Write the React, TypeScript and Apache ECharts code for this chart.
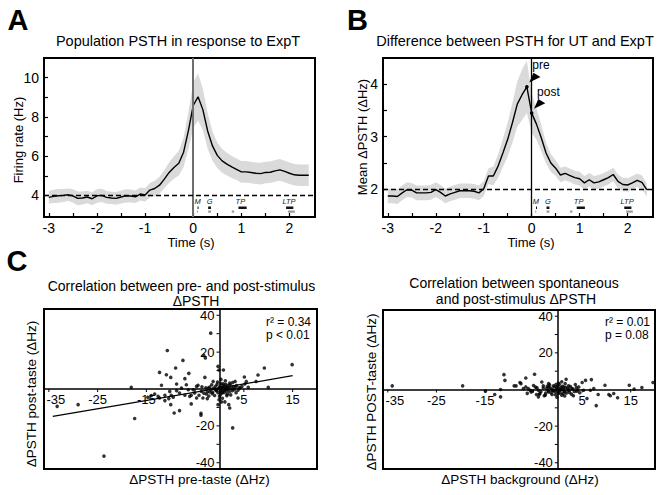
import React, { useEffect, useRef } from 'react';
import * as echarts from 'echarts';

// ---------- Panel A / B : time course ----------
const timeS = [-3.0,-2.9,-2.8,-2.7,-2.6,-2.5,-2.4,-2.3,-2.2,-2.1,-2.0,-1.9,-1.8,-1.7,-1.6,-1.5,-1.4,-1.3,-1.2,-1.1,-1.0,-0.9,-0.8,-0.7,-0.6,-0.5,-0.4,-0.3,-0.2,-0.1,0.0,0.1,0.2,0.3,0.4,0.5,0.6,0.7,0.8,0.9,1.0,1.1,1.2,1.3,1.4,1.5,1.6,1.7,1.8,1.9,2.0,2.1,2.2,2.3,2.4];

const rateA = [3.9,3.95,3.98,4.0,4.03,3.98,3.85,3.87,3.92,3.83,3.98,4.0,3.9,3.87,3.85,3.92,3.98,3.97,3.93,4.07,4.02,
  4.27,4.35,4.52,4.83,5.17,5.42,5.64,6.2,7.3,
  8.58,9.02,8.37,7.28,6.52,6.04,5.76,5.59,5.45,5.33,5.2,5.2,5.17,5.13,5.11,5.17,5.18,5.25,5.3,5.22,5.13,5.05,5.03,5.03,5.03];
const semA = [0.32,0.34,0.35,0.33,0.32,0.34,0.35,0.33,0.32,0.33,0.35,0.34,0.32,0.31,0.32,0.33,0.34,0.33,0.32,0.33,0.34,
  0.36,0.4,0.43,0.47,0.52,0.57,0.62,0.75,0.95,
  1.15,1.2,1.05,0.9,0.75,0.65,0.6,0.58,0.56,0.55,0.55,0.55,0.55,0.55,0.55,0.55,0.55,0.55,0.55,0.55,0.55,0.55,0.55,0.55,0.55];

const diffB = [1.87,1.87,1.86,1.93,1.99,1.98,1.93,1.93,1.93,1.94,1.99,1.94,1.87,1.91,1.94,1.97,1.97,1.97,1.96,1.93,2.01,
  2.25,2.25,2.44,2.69,2.95,3.27,3.62,3.8,3.95,
  3.45,3.24,2.98,2.69,2.5,2.4,2.27,2.3,2.26,2.22,2.2,2.12,2.18,2.12,2.14,2.18,2.22,2.28,2.15,2.09,2.08,2.12,2.17,2.13,1.99];
const semB = [0.14,0.14,0.14,0.14,0.14,0.14,0.14,0.14,0.14,0.14,0.14,0.14,0.14,0.14,0.14,0.14,0.14,0.14,0.14,0.14,0.14,
  0.15,0.18,0.22,0.27,0.32,0.38,0.43,0.48,0.5,
  0.38,0.3,0.25,0.2,0.17,0.15,0.14,0.13,0.13,0.13,0.13,0.13,0.13,0.13,0.13,0.13,0.13,0.13,0.13,0.13,0.13,0.13,0.13,0.13,0.13];

const timeTicks = [-3,-2.5,-2,-1.5,-1,-0.5,0,0.5,1,1.5,2];
const timeLabels = [-3,-2,-1,0,1,2];
const rateTicks = [4,5,6,7,8,9,10];
const rateLabels = [4,6,8,10];
const diffTicks = [2,2.5,3,3.5,4];
const diffLabels = [2,3,4];

// epoch markers (seconds)
const epochNames = ['M','G','TP','LTP'];
const epochLabelT = [0.09,0.34,0.98,1.99];
const epochBarStart = [0.09,0.31,0.94,1.93];
const epochBarEnd = [0.1,0.37,1.11,2.08];
const epochLowStart = [0.075,0.31,0.8,1.97];
const epochLowEnd = [0.085,0.37,0.85,2.11];

// pre / post arrows in B
const arrowNames = ['pre','post'];
const arrowT = [-0.1,0.0];
const arrowV = [3.95,3.45];

// ---------- Panel C : scatter ----------
const prePost: number[][] = [
  [-33.3,-9.4],[-29.0,-8.5],[-23.7,-36.4],[-18.1,0.9],[-17.4,-16.0],[-12.3,9.0],[-11.9,2.0],[-12.3,-4.9],[-10.7,20.9],[-10.9,7.7],
  [-10.0,6.3],[-9.9,-3.4],[-10.0,-8.5],[-9.3,-13.0],[-9.0,11.4],[-8.2,-11.7],[-7.5,15.5],[-7.1,5.6],[-6.3,8.5],[-6.8,2.3],
  [-6.1,-4.0],[-5.8,-8.1],[-3.8,-13.2],[-3.8,-14.2],[-3.2,18.2],[-2.9,16.8],[-1.8,30.3],[-3.0,6.3],[-4.4,2.0],[-3.7,-1.3],
  [-5.4,-0.4],[-4.7,-4.9],[-2.5,-5.2],[-1.6,2.3],[-1.3,4.1],[-0.3,12.3],[-0.1,10.3],[0.8,10.3],[-0.3,-8.5],[0.4,-7.0],
  [1.1,-7.0],[1.9,-8.5],[2.7,-21.1],[2.1,-10.3],[3.8,-4.9],[4.0,0.5],[5.1,6.5],[5.2,2.7],[5.5,4.1],[5.9,0.9],
  [7.5,4.1],[7.9,7.6],[9.2,11.4],[10.0,0.9],[14.9,13.2],[3.2,4.1],[2.1,3.2],[-14.7,-4.5],[-14.0,-3.6],[-13.3,-2.7],
  [-12.6,-4.0],[-11.2,-3.4],[-10.2,-1.3],[-9.5,-4.5],[-8.8,-0.9],[-8.2,-2.2],[-7.8,0.5],[-7.1,-3.4],[-6.4,-0.4],[-5.8,-3.4],
  [-5.1,-2.2],[-4.2,-3.4],[-3.4,-4.9],[-2.3,0.5],[-2.7,-2.7],[-2.0,-1.6],[-10.4,-5.2],[-11.2,-6.3],[-8.8,2.7],[-4.7,1.4],
  [-2.5,-1.5],[-2,1],[-1.5,-2.5],[-1.2,0.5],[-1,-3.5],[-0.8,1.5],[-0.6,-1],[-0.5,2.5],[-0.3,-2],[-0.2,0.3],
  [0,-4],[0.1,1.2],[0.2,-1.3],[0.3,3],[0.4,-0.5],[0.5,0.8],[0.6,-2.2],[0.7,2],[0.8,-0.8],[0.9,0.4],
  [1,-1.8],[1.1,1.5],[1.2,-0.3],[1.3,2.6],[1.4,-1],[1.5,0.7],[1.6,-2.8],[1.7,1.9],[1.8,-0.2],[1.9,0.9],
  [2,-1.5],[2.2,2.3],[2.4,0.2],[2.6,-0.9],[2.8,1.3],[3,-0.4],[3.2,0.9],[3.5,1.8],[3.8,-0.7],[4.2,0.6],
  [4.6,1.4],[-1.8,-0.5],[-1.4,-1.8],[-0.9,-0.2],[0,0.6],[0.2,-3],[0.5,-1.7],[0.8,2.8],[1.2,4.5],[0.3,5.2],
  [-0.4,3.8],[-0.1,-5.8],[0.6,-5],[1.5,-3.6],[2.3,-3.2],[-2.8,0.7],[-3.2,-2.3],[-3.6,1.2],[-2.2,-3.8],[1,0],
  [0.4,0.2],[-0.7,-0.6],[2.7,3.5],[3.4,-2],[0.1,-0.2]
];
const fitX = [-34.2,15.0];
const fitY = [-14.9,7.2];

const bgPost: number[][] = [
  [-34.1,2.0],[-19.6,2.0],[-14.9,-0.9],[-13.0,-2.7],[-11.8,-4.0],[-11.8,0],[-11.1,8.1],[-10.9,5.0],[-9.0,2.0],[-8.6,2.0],
  [-7.8,3.8],[-7.6,3.2],[-6.6,6.3],[-7.1,0.5],[-6.6,1.4],[-6.1,0.5],[-4.8,8.3],[-5.7,-0.4],[-5.3,-0.9],[-4.6,1.3],
  [-4.0,-4.0],[-3.7,-2.2],[-3.3,4.1],[-3.0,2.0],[-2.6,-3.1],[-2.3,0.5],[-1.9,-1.3],[-1.6,0.9],[-1.2,-2.7],[-0.9,2.0],
  [-0.6,-0.9],[-0.2,0.9],[0.1,-2.2],[0.5,0.2],[0.8,-3.1],[1.2,1.4],[1.5,3.2],[1.7,5.6],[2.1,-0.4],[2.4,-1.6],
  [2.9,0.5],[3.2,-3.4],[3.6,2.7],[3.9,-0.9],[4.3,1.4],[5.0,3.8],[5.3,-0.4],[5.7,5.0],[6.0,-4.9],[6.7,-0.4],
  [6.9,5.4],[7.4,0.5],[7.9,-8.8],[8.3,-2.7],[9.7,2.3],[10.5,-2.7],[10.8,-3.4],[11.5,-2.2],[12.3,-4.5],[14.7,2.3],
  [15.7,0.2],[17.3,1.1],[19.6,3.8],[2.2,2.0],[1.4,-1.3],[-0.4,2.7],[-1.1,-0.5],[-1.9,1.4],[-4.0,-0.4],[-4.4,-2.7],
  [-3.5,-1.2],[-3,0.8],[-2.5,-2],[-2.2,1.8],[-2,-0.6],[-1.7,2.5],[-1.4,-1.8],[-1.2,0.3],[-0.9,-0.8],[-0.7,1.5],
  [-0.5,-2.8],[-0.3,0.4],[-0.1,-1.2],[0,1.9],[0.2,-0.5],[0.3,2.8],[0.4,-1.7],[0.6,0.9],[0.7,-0.3],[0.9,1.8],
  [1,-2.2],[1.1,0.2],[1.3,-0.9],[1.6,1.1],[1.8,-1.9],[2,0.7],[2.3,-0.2],[2.6,1.6],[2.8,-2.5],[3.1,0.3],
  [3.4,-1.1],[3.8,1],[4.1,-0.3],[4.5,-1.8],[-4.3,0.9],[-3.8,-2.6],[-2.8,-3.4],[-1.9,3.2],[0.1,3.5],[1.4,-3.5],
  [-0.2,-4.2],[0.8,4.2],[-5.5,-1.4],[-6.3,-2.1],[-5,2.2]
];

const corrXTicks = [-35,-25,-15,-5,5,15];
const corrXLabels = [-35,-25,-15,5,15];
const corrYTicks = [-40,-30,-20,-10,10,20,30,40];
const corrYLabels = [-40,-20,20,40];

const FONT = '"Liberation Sans", Arial, Helvetica, sans-serif';

function bandSeries(idx: number, t: number[], v: number[], e: number[]) {
  return {
    type: 'custom', xAxisIndex: idx, yAxisIndex: idx, z: 1, silent: true,
    data: [[t[0], v[0]]],
    renderItem: (params: any, api: any) => {
      const pts: number[][] = [];
      for (let i = 0; i < t.length; i++) pts.push(api.coord([t[i], v[i] + e[i]]));
      for (let i = t.length - 1; i >= 0; i--) pts.push(api.coord([t[i], v[i] - e[i]]));
      return { type: 'polygon', shape: { points: pts }, style: { fill: '#dadada' } };
    },
  };
}

function epochSeries(idx: number, yRef: number) {
  return {
    type: 'custom', xAxisIndex: idx, yAxisIndex: idx, z: 5, silent: true,
    data: epochLabelT.map((t) => [t, yRef]),
    renderItem: (params: any, api: any) => {
      const i = params.dataIndex;
      const cs = params.coordSys;
      const bottom = cs.y + cs.height;
      const yv = api.value(1);
      const xl = api.coord([epochLabelT[i], yv])[0];
      const xs = api.coord([epochBarStart[i], yv])[0];
      const xe = api.coord([epochBarEnd[i], yv])[0];
      const ls = api.coord([epochLowStart[i], yv])[0];
      const le = api.coord([epochLowEnd[i], yv])[0];
      return {
        type: 'group',
        children: [
          { type: 'text', style: { text: epochNames[i], x: xl, y: bottom - 15.5, align: 'center', verticalAlign: 'middle', font: `italic 7.5px ${FONT}`, fill: '#222' } },
          { type: 'rect', shape: { x: xs, y: bottom - 10.5, width: Math.max(xe - xs, 1), height: 2.5 }, style: { fill: '#111' } },
          { type: 'rect', shape: { x: ls, y: bottom - 6.5, width: Math.max(le - ls, 1), height: 2.2 }, style: { fill: '#9a9a9a' } },
        ],
      };
    },
  };
}

// tick marks and labels of the zero-crossing axes in C, placed through the axis scales
function corrAxisMarks(idx: number) {
  return {
    type: 'custom', xAxisIndex: idx, yAxisIndex: idx, z: 6, silent: true,
    data: [[0, 0]],
    renderItem: (params: any, api: any) => {
      const children: any[] = [];
      const font = `13px ${FONT}`;
      corrXTicks.forEach((v) => {
        const p = api.coord([v, 0]);
        children.push({ type: 'line', shape: { x1: p[0], y1: p[1], x2: p[0], y2: p[1] + 3 }, style: { stroke: '#000', lineWidth: 1 } });
      });
      corrXLabels.forEach((v) => {
        const p = api.coord([v, 0]);
        children.push({ type: 'text', style: { text: String(v), x: p[0] + (v === -35 ? 7 : 0), y: p[1] + 4, align: 'center', verticalAlign: 'top', font, fill: '#000' } });
      });
      corrYTicks.forEach((v) => {
        const p = api.coord([0, v]);
        children.push({ type: 'line', shape: { x1: p[0] - 3, y1: p[1], x2: p[0], y2: p[1] }, style: { stroke: '#000', lineWidth: 1 } });
      });
      corrYLabels.forEach((v) => {
        const p = api.coord([0, v]);
        children.push({ type: 'text', style: { text: String(v), x: p[0] - 5, y: p[1], align: 'right', verticalAlign: 'middle', font, fill: '#000' } });
      });
      return { type: 'group', children };
    },
  };
}

function timeAxes(idx: number, min: number, max: number, yTicks: number[], yLabels: number[]) {
  const x = {
    type: 'value', gridIndex: idx, min: -3.1, max: 2.53,
    axisLine: { show: false, onZero: false },
    axisTick: { show: true, inside: true, length: 4, customValues: timeTicks, lineStyle: { color: '#000', width: 1.2 } },
    axisLabel: { customValues: timeLabels, fontSize: 14, color: '#000', margin: 4, fontFamily: FONT },
    splitLine: { show: false },
  };
  const y = {
    type: 'value', gridIndex: idx, min, max,
    axisLine: { show: false, onZero: false },
    axisTick: { show: true, inside: true, length: 4, customValues: yTicks, lineStyle: { color: '#000', width: 1.2 } },
    axisLabel: { customValues: yLabels, fontSize: 14, color: '#000', margin: 5, fontFamily: FONT },
    splitLine: { show: false },
  };
  return { x, y };
}

function corrAxes(idx: number) {
  const x = {
    type: 'value', gridIndex: idx, min: -36, max: 20,
    axisLine: { show: true, onZero: true, lineStyle: { color: '#000', width: 1.5 } },
    axisTick: { show: false },
    axisLabel: { show: false },
    splitLine: { show: false },
  };
  const y = {
    type: 'value', gridIndex: idx, min: -43.4, max: 43.4,
    axisLine: { show: true, onZero: true, lineStyle: { color: '#000', width: 1.5 } },
    axisTick: { show: false },
    axisLabel: { show: false },
    splitLine: { show: false },
  };
  return { x, y };
}

function txt(text: string, x: number, y: number, size: number, opts: any = {}) {
  return {
    type: 'text', x, y, rotation: opts.rotation || 0, silent: true,
    style: {
      text, font: `${opts.bold ? 'bold ' : ''}${size}px ${FONT}`, fill: '#000',
      align: opts.align || 'center', verticalAlign: 'middle',
    },
  };
}

export default function App() {
  const ref = useRef<HTMLDivElement>(null);
  useEffect(() => {
    if (!ref.current) return;
    const chart = echarts.init(ref.current, undefined, { renderer: 'svg' });
    const aAx = timeAxes(0, 2.9, 11, rateTicks, rateLabels);
    const bAx = timeAxes(1, 1.47, 4.5, diffTicks, diffLabels);
    const cAx = corrAxes(2);
    const dAx = corrAxes(3);
    const gridStyle = { show: true, borderColor: '#000', borderWidth: 2, backgroundColor: 'transparent' };

    const option: any = {
      animation: false,
      backgroundColor: '#fff',
      grid: [
        { ...gridStyle, left: 44, top: 58, width: 271, height: 159 },
        { ...gridStyle, left: 383, top: 58, width: 270, height: 159 },
        { ...gridStyle, left: 44, top: 309, width: 273, height: 160 },
        { ...gridStyle, left: 383, top: 310, width: 272, height: 159 },
      ],
      xAxis: [aAx.x, bAx.x, cAx.x, dAx.x],
      yAxis: [aAx.y, bAx.y, cAx.y, dAx.y],
      series: [
        bandSeries(0, timeS, rateA, semA),
        {
          type: 'line', xAxisIndex: 0, yAxisIndex: 0, z: 3, symbol: 'none', silent: true,
          data: timeS.map((t, i) => [t, rateA[i]]),
          lineStyle: { color: '#000', width: 1.4 },
          markLine: {
            silent: true, symbol: 'none', label: { show: false },
            data: [
              { xAxis: 0, lineStyle: { color: '#6e6e6e', width: 2, type: 'solid' } },
              { yAxis: 4, lineStyle: { color: '#000', width: 1.3, type: [5, 3] } },
            ],
          },
        },
        epochSeries(0, 4),
        bandSeries(1, timeS, diffB, semB),
        {
          type: 'line', xAxisIndex: 1, yAxisIndex: 1, z: 3, symbol: 'none', silent: true,
          data: timeS.map((t, i) => [t, diffB[i]]),
          lineStyle: { color: '#000', width: 1.4 },
          markLine: {
            silent: true, symbol: 'none', label: { show: false },
            data: [
              { xAxis: 0, lineStyle: { color: '#000', width: 1.3, type: 'solid' } },
              { yAxis: 2, lineStyle: { color: '#000', width: 1.3, type: [5, 3] } },
            ],
          },
        },
        epochSeries(1, 2),
        {
          type: 'custom', xAxisIndex: 1, yAxisIndex: 1, z: 6, silent: true,
          data: arrowT.map((t, i) => [t, arrowV[i]]),
          renderItem: (params: any, api: any) => {
            const i = params.dataIndex;
            const p = api.coord([api.value(0), api.value(1)]);
            const tip = [p[0] + 2.4, p[1] - 4.4];
            return {
              type: 'group',
              children: [
                { type: 'circle', shape: { cx: p[0], cy: p[1], r: 1.8 }, style: { fill: '#000' } },
                { type: 'polygon', shape: { points: [tip, [tip[0] + 4.2, tip[1] - 9.7], [tip[0] + 11.2, tip[1] - 5.5]] }, style: { fill: '#000' } },
                { type: 'text', style: { text: arrowNames[i], x: tip[0] + 3, y: tip[1] - 17, align: 'left', verticalAlign: 'middle', font: `12px ${FONT}`, fill: '#000' } },
              ],
            };
          },
        },
        {
          type: 'scatter', xAxisIndex: 2, yAxisIndex: 2, z: 4, silent: true,
          data: prePost, symbol: 'circle', symbolSize: 3.6, itemStyle: { color: '#000' },
        },
        {
          type: 'line', xAxisIndex: 2, yAxisIndex: 2, z: 4, silent: true, symbol: 'none',
          data: fitX.map((x, i) => [x, fitY[i]]),
          lineStyle: { color: '#000', width: 1.3 },
        },
        corrAxisMarks(2),
        {
          type: 'scatter', xAxisIndex: 3, yAxisIndex: 3, z: 4, silent: true,
          data: bgPost, symbol: 'circle', symbolSize: 3.6, itemStyle: { color: '#000' },
        },
        corrAxisMarks(3),
      ],
      graphic: [
        txt('A', 18, 20, 29, { bold: true }),
        txt('B', 357.5, 20, 29, { bold: true }),
        txt('C', 17, 261, 29, { bold: true }),
        txt('Population PSTH in response to ExpT', 178, 41, 14.5),
        txt('Difference between PSTH for UT and ExpT', 515, 41, 14.5),
        txt('Correlation between pre- and post-stimulus', 181.5, 286, 14),
        txt('ΔPSTH', 196, 300.5, 14),
        txt('Correlation between spontaneous', 514, 282.5, 14),
        txt('and post-stimulus ΔPSTH', 516, 299, 14),
        txt('Firing rate (Hz)', 18, 140, 13, { rotation: Math.PI / 2 }),
        txt('Mean ΔPSTH (ΔHz)', 362.5, 137, 13, { rotation: Math.PI / 2 }),
        txt('Time (s)', 191, 242.5, 13),
        txt('Time (s)', 531, 242.5, 13),
        txt('ΔPSTH post-taste (ΔHz)', 31, 394, 13.5, { rotation: Math.PI / 2 }),
        txt('ΔPSTH POST-taste (ΔHz)', 371, 392, 13.5, { rotation: Math.PI / 2 }),
        txt('ΔPSTH pre-taste (ΔHz)', 199.5, 479, 13.5),
        txt('ΔPSTH background (ΔHz)', 520, 479, 13.5),
        txt('r² = 0.34', 266, 322, 12, { align: 'left' }),
        txt('p < 0.01', 266, 335, 12, { align: 'left' }),
        txt('r² = 0.01', 605, 322, 12, { align: 'left' }),
        txt('p = 0.08', 605, 335, 12, { align: 'left' }),
      ],
    };
    chart.setOption(option);
    return () => chart.dispose();
  }, []);
  return (
    <div
      ref={ref}
      style={{ position: 'fixed', left: 0, top: 0, width: 664, height: 495, background: '#fff' }}
    />
  );
}
